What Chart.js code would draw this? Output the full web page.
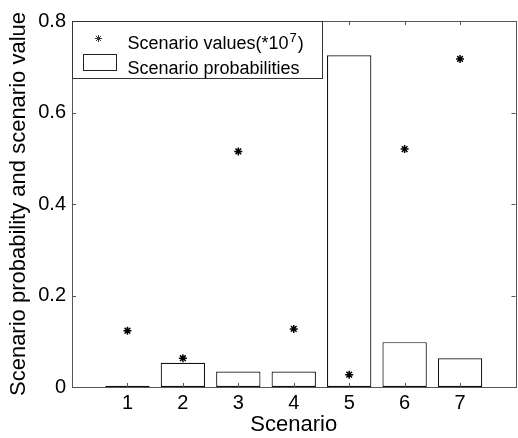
<!DOCTYPE html>
<html>
<head>
<meta charset="utf-8">
<script src="https://cdn.jsdelivr.net/npm/chart.js@4"></script>
<style>
  html, body { margin: 0; padding: 0; background: #fff; overflow: hidden; }
  canvas { display: block; }
</style>
</head>
<body>
<canvas id="chartcanvas" width="521" height="438"></canvas>
<script>
const scenarios = [1, 2, 3, 4, 5, 6, 7];
const probabilities = [0.003, 0.053, 0.034, 0.034, 0.725, 0.098, 0.063];
const scenarioValues = [0.123, 0.063, 0.515, 0.127, 0.027, 0.520, 0.717];
const yTickValues = [0, 0.2, 0.4, 0.6, 0.8];
const yTickLabels = ['0', '0.2', '0.4', '0.6', '0.8'];

const axisColor = '#555';
const fontFamily = '"Liberation Sans", Arial, sans-serif';

const canvas = document.getElementById('chartcanvas');
const ctx = canvas.getContext('2d');

// matlab style box with inward ticks + legend
const boxPlugin = {
  id: 'matlabBox',
  afterDraw(chart) {
    const c = chart.ctx;
    const a = chart.chartArea;
    const xs = chart.scales.x, ys = chart.scales.y;
    const tl = 4;
    c.save();
    c.strokeStyle = axisColor;
    c.lineWidth = 1;
    c.strokeRect(Math.round(a.left) + 0.5, Math.round(a.top) + 0.5,
      Math.round(a.right - a.left), Math.round(a.bottom - a.top));
    c.beginPath();
    xs.ticks.forEach(t => {
      const px = Math.round(xs.getPixelForValue(t.value)) + 0.5;
      c.moveTo(px, a.bottom); c.lineTo(px, a.bottom - tl);
      c.moveTo(px, a.top); c.lineTo(px, a.top + tl);
    });
    ys.ticks.forEach(t => {
      const py = Math.round(ys.getPixelForValue(t.value)) + 0.5;
      c.moveTo(a.left, py); c.lineTo(a.left + tl, py);
      c.moveTo(a.right, py); c.lineTo(a.right - tl, py);
    });
    c.stroke();

    // legend
    const lx = Math.round(a.left) + 0.5, ly = Math.round(a.top) + 0.5;
    c.fillStyle = '#fff';
    c.fillRect(lx, ly, 250, 57);
    c.strokeStyle = '#333';
    c.strokeRect(lx, ly, 250, 57);
    Chart.helpers.drawPoint(c, {pointStyle: 'star', radius: 3.5, borderWidth: 1.2}, lx + 26, ly + 17);
    c.strokeStyle = '#222';
    c.strokeRect(lx + 11, ly + 33, 33, 16);
    c.fillStyle = '#000';
    c.textBaseline = 'alphabetic';
    c.textAlign = 'left';
    c.font = '18px ' + fontFamily;
    const t1 = 'Scenario values(*10';
    c.fillText(t1, lx + 55, ly + 27);
    let w = c.measureText(t1).width;
    c.font = '13px ' + fontFamily;
    c.fillText('7', lx + 55 + w + 1, ly + 20);
    const w7 = c.measureText('7').width;
    c.font = '18px ' + fontFamily;
    c.fillText(')', lx + 55 + w + w7 + 2, ly + 27);
    c.fillText('Scenario probabilities', lx + 55, ly + 52);
    c.restore();
  }
};

new Chart(ctx, {
  type: 'bar',
  data: {
    datasets: [{
      type: 'scatter',
      label: 'Scenario values',
      data: scenarios.map((s, i) => ({x: s, y: scenarioValues[i]})),
      pointStyle: 'star',
      radius: 4,
      borderWidth: 1.5,
      borderColor: '#000',
      backgroundColor: '#000'
    }, {
      label: 'Scenario probabilities',
      data: scenarios.map((s, i) => ({x: s, y: probabilities[i]})),
      backgroundColor: '#fff',
      borderColor: '#111',
      borderWidth: 1.2,
      borderSkipped: false,
      barPercentage: 1,
      categoryPercentage: 0.8
    }]
  },
  options: {
    responsive: false,
    animation: false,
    layout: { padding: { top: 21, right: 1, left: 0, bottom: 0 } },
    plugins: {
      legend: { display: false },
      tooltip: { enabled: false }
    },
    scales: {
      x: {
        type: 'linear',
        offset: false,
        min: 0,
        max: 8,
        grid: { display: false, drawTicks: false },
        border: { display: false },
        afterBuildTicks: s => { s.ticks = scenarios.map(v => ({value: v})); },
        afterFit: s => { s.height = 51; s.paddingLeft = 0; s.paddingRight = 0; },
        ticks: {
          padding: 4,
          color: '#000',
          font: { family: fontFamily, size: 20 },
          maxRotation: 0
        },
        title: {
          display: true,
          text: 'Scenario',
          color: '#000',
          font: { family: fontFamily, size: 22 },
          padding: { top: 0, bottom: 0 }
        }
      },
      y: {
        min: 0,
        max: 0.8,
        grid: { display: false, drawTicks: false },
        border: { display: false },
        afterBuildTicks: s => { s.ticks = yTickValues.map(v => ({value: v})); },
        afterFit: s => { s.width = 72; s.paddingTop = 0; s.paddingBottom = 0; },
        ticks: {
          padding: 6,
          color: '#000',
          font: { family: fontFamily, size: 20 },
          callback: (v) => yTickLabels[yTickValues.indexOf(v)] ?? ''
        },
        title: {
          display: true,
          text: 'Scenario probability and scenario value',
          color: '#000',
          font: { family: fontFamily, size: 22 },
          padding: { top: 6, bottom: 0 }
        }
      }
    }
  },
  plugins: [boxPlugin]
});
</script>
</body>
</html>
